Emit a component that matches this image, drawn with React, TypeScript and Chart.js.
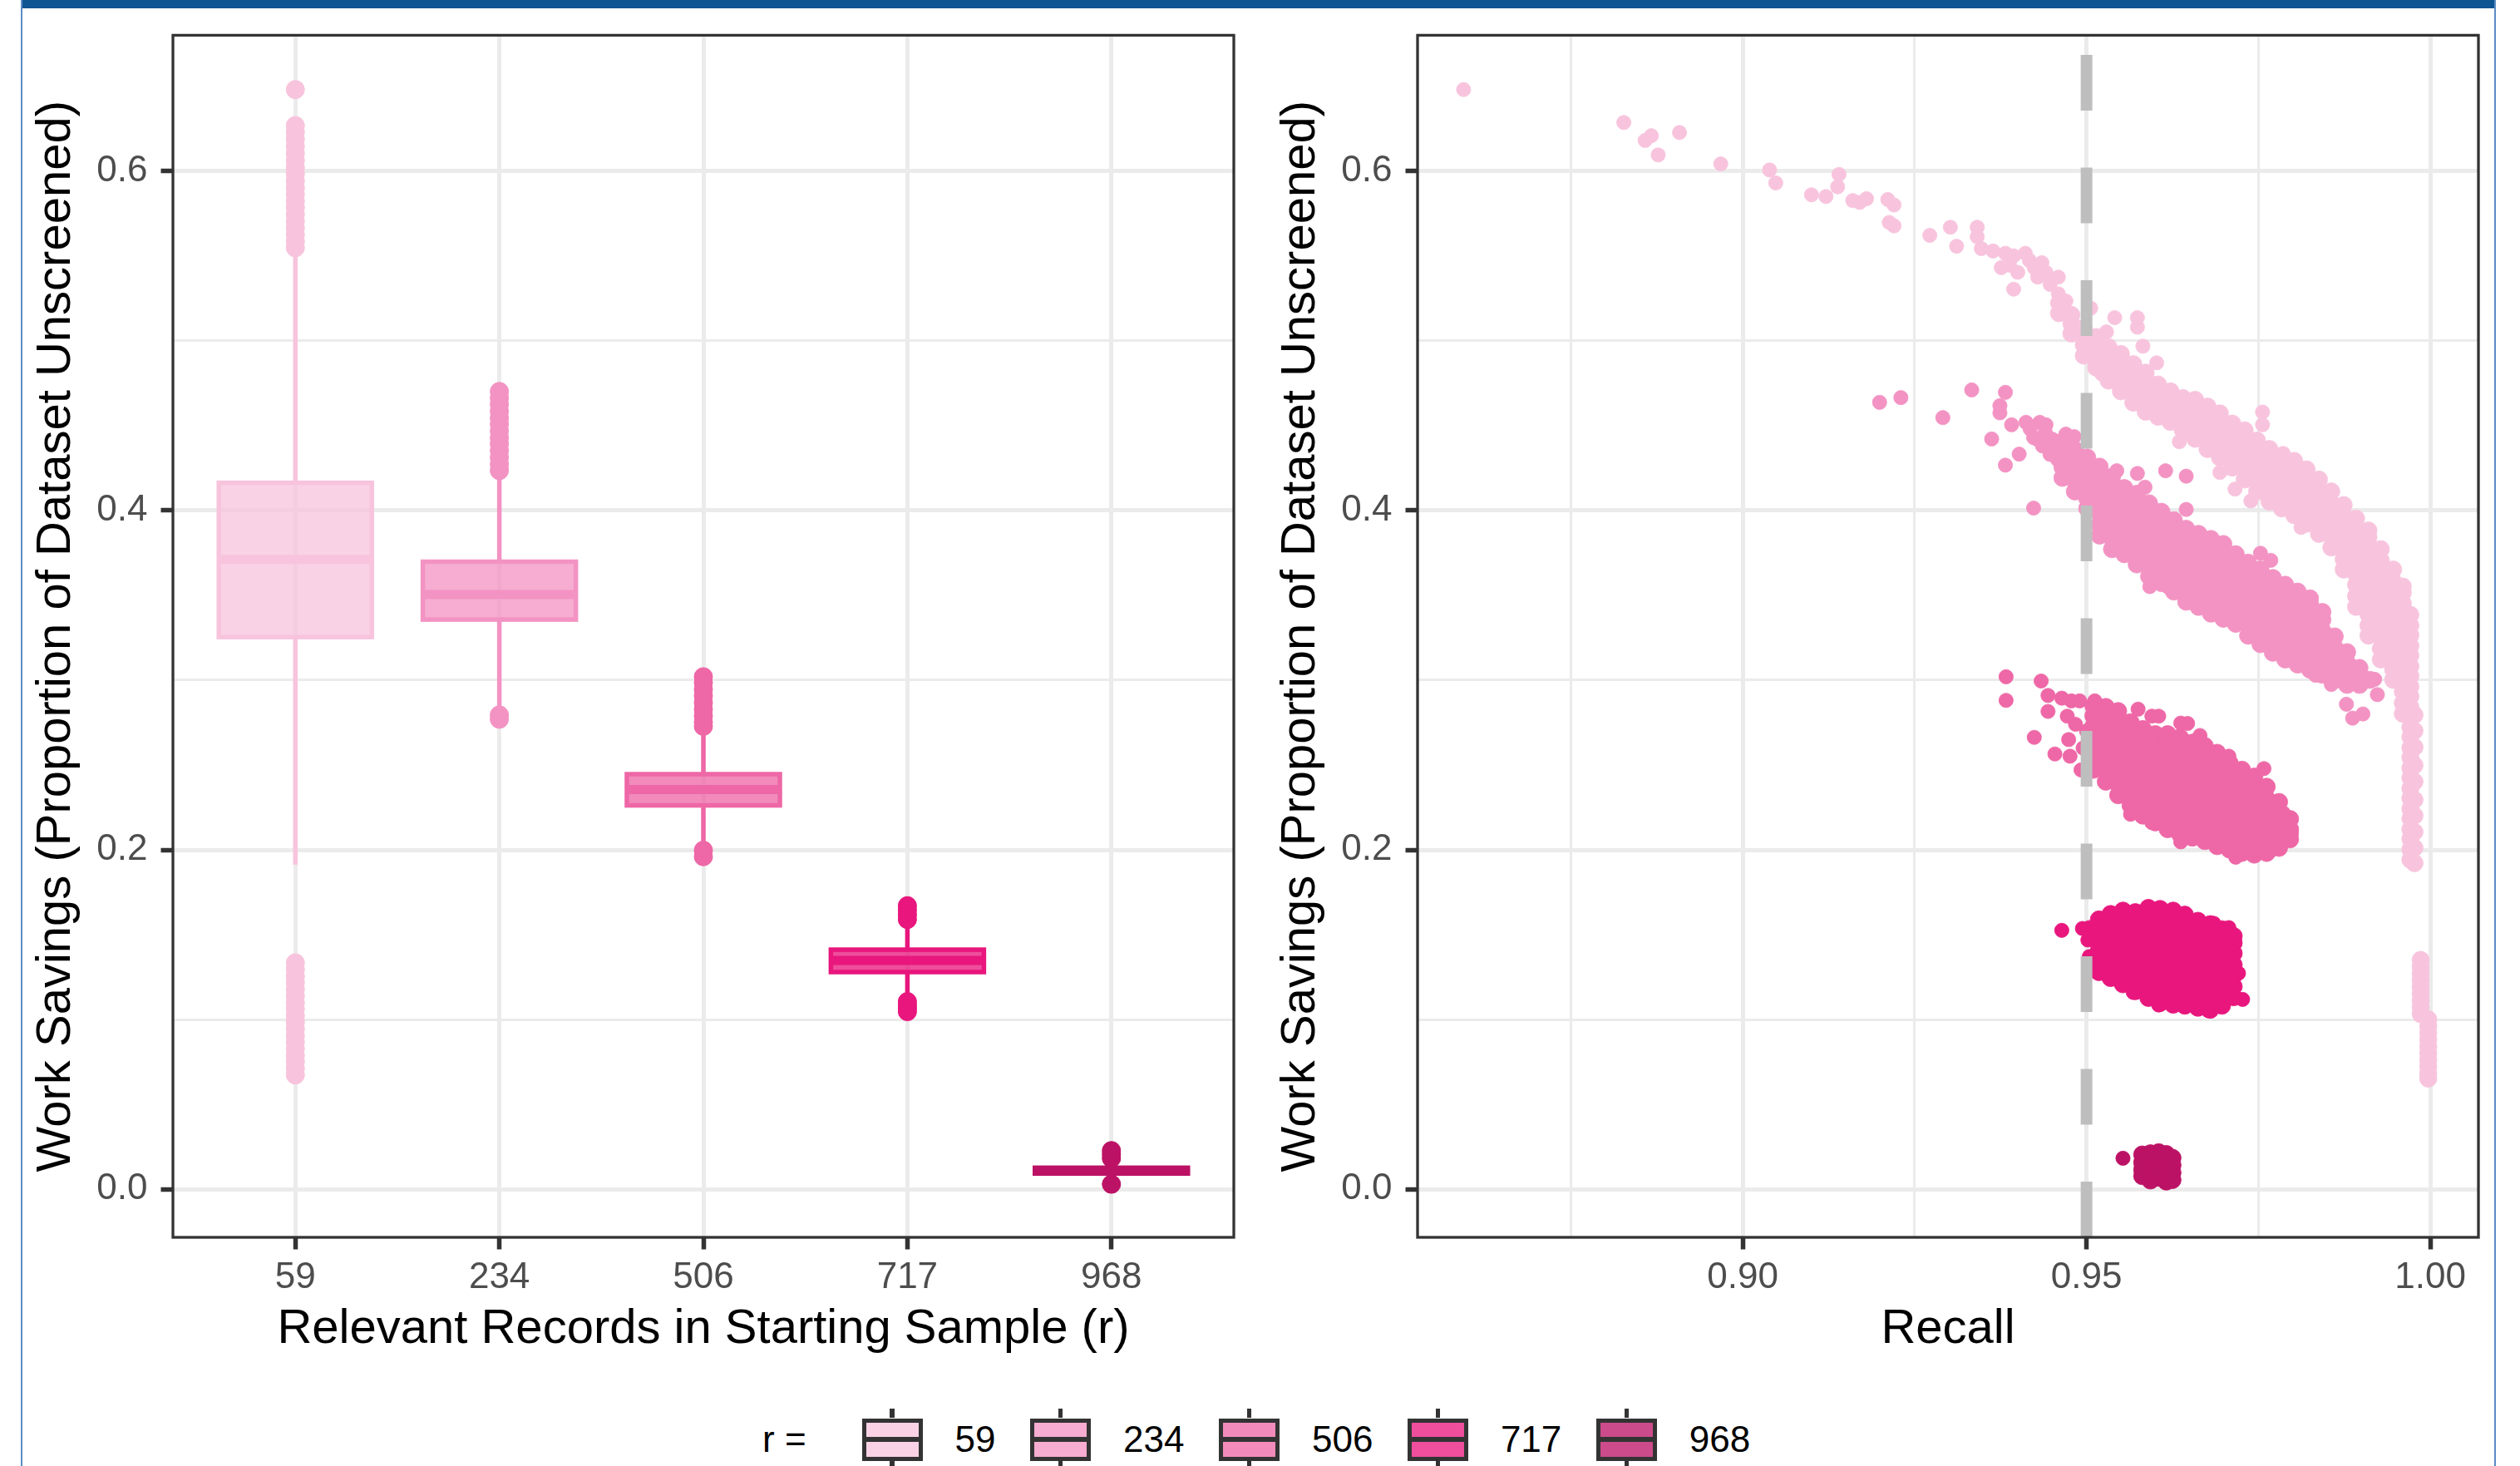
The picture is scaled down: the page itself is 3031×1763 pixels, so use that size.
import React, { useEffect, useRef } from 'react';
import { Chart, registerables } from 'chart.js';

Chart.register(...registerables);

const FONT = "'Liberation Sans', Arial, Helvetica, sans-serif";
Chart.defaults.font.family = FONT;

// ---------- shared data ----------
const categories = ['59', '234', '506', '717', '968'];
const seriesColors = ['#F8C4DD', '#F393C3', '#EE67A6', '#E8167D', '#BC1265'];

const yRange = [-0.0283, 0.68];
const yMajorTicks = [0, 0.2, 0.4, 0.6];
const yMajorLabels = ['0.0', '0.2', '0.4', '0.6'];
const yMinorTicks = [0.1, 0.3, 0.5];

const recallRange = [0.8527, 1.007];
const recallMajorTicks = [0.9, 0.95, 1.0];
const recallMajorLabels = ['0.90', '0.95', '1.00'];
const recallMinorTicks = [0.875, 0.925, 0.975];
const recallThreshold = 0.95;

const yTitle = 'Work Savings (Proportion of Dataset Unscreened)';
const leftXTitle = 'Relevant Records in Starting Sample (r)';
const rightXTitle = 'Recall';
const legendTitle = 'r =';

// ---------- box plot data (left panel) ----------
const boxQ1 = [0.3254, 0.3357, 0.2262, 0.128, 0.0093];
const boxMedian = [0.3711, 0.3505, 0.2356, 0.1349, 0.011];
const boxQ3 = [0.4163, 0.3698, 0.2446, 0.1412, 0.0127];
const whiskerLow = [0.1913, 0.281, 0.201, 0.112, 0.006];
const whiskerHigh = [0.553, 0.422, 0.272, 0.1575, 0.0165];

const outliers59 = [0.648, 0.6268, 0.6228, 0.6187, 0.6145, 0.6104, 0.6062, 0.6021, 0.5983, 0.5942, 0.5902, 0.5864, 0.5822, 0.5785, 0.5745, 0.5703, 0.5663, 0.5625, 0.5585, 0.5548,
  0.1334, 0.1295, 0.1255, 0.1218, 0.1178, 0.1138, 0.1098, 0.1062, 0.1022, 0.0985, 0.0945, 0.0905, 0.0868, 0.0828, 0.0788, 0.0752, 0.0712, 0.0674];
const outliers234 = [0.4701, 0.4662, 0.4625, 0.4585, 0.4545, 0.4508, 0.4468, 0.4428, 0.4392, 0.4352, 0.4312, 0.4272, 0.4235, 0.2795, 0.277];
const outliers506 = [0.302, 0.2985, 0.2945, 0.2908, 0.2868, 0.2828, 0.279, 0.2752, 0.2728, 0.1998, 0.196];
const outliers717 = [0.1671, 0.1645, 0.1618, 0.159, 0.1106, 0.1085, 0.1065, 0.1047];
const outliers968 = [0.0228, 0.0205, 0.0182, 0.003];
const outlierLists = [outliers59, outliers234, outliers506, outliers717, outliers968];

// ---------- scatter data (right panel): [recall, workSavings] and columns [recall, ws, ws, ...] ----------
const s59Sparse = [[0.8594, 0.648], [0.8827, 0.6286], [0.8858, 0.618], [0.8867, 0.6208], [0.8877, 0.6095], [0.8908, 0.6227], [0.8968, 0.6042], [0.9039, 0.6006], [0.9048, 0.593], [0.914, 0.598], [0.91, 0.586], [0.9121, 0.585], [0.9138, 0.5907], [0.916, 0.5826], [0.917, 0.5815], [0.918, 0.5837], [0.9211, 0.5832], [0.922, 0.58], [0.9213, 0.5697], [0.922, 0.5677], [0.9272, 0.5621], [0.9302, 0.5669], [0.9311, 0.5557], [0.9341, 0.5669], [0.9341, 0.5613], [0.9347, 0.5543], [0.9364, 0.5529], [0.9382, 0.5515], [0.9394, 0.55], [0.9411, 0.5515], [0.9417, 0.5473], [0.9388, 0.5445], [0.9376, 0.5431], [0.94, 0.5403], [0.9429, 0.5375], [0.9441, 0.5403], [0.9447, 0.5332], [0.9394, 0.5304], [0.9459, 0.5276], [0.947, 0.5234], [0.9459, 0.5375], [0.9506, 0.5192], [0.9482, 0.508], [0.9529, 0.5052], [0.9541, 0.5136], [0.9574, 0.5136], [0.9574, 0.508], [0.9582, 0.4968], [0.9602, 0.487], [0.9756, 0.458], [0.9756, 0.4505], [0.9786, 0.4336], [0.9716, 0.4126], [0.9694, 0.4224], [0.9739, 0.4056], [0.9635, 0.4405], [0.9522, 0.4805], [0.9812, 0.39], [0.9424, 0.543], [0.9435, 0.546]];
const s59Cols = [
  [0.946, 0.5162, 0.5222], [0.9478, 0.5042, 0.5102, 0.5152], [0.9496, 0.4912, 0.4975, 0.5042, 0.5072], [0.9514, 0.4842, 0.4902, 0.4962, 0.5022],
  [0.9532, 0.4765, 0.4832, 0.4895, 0.4962], [0.955, 0.4702, 0.4762, 0.4828, 0.4892, 0.4922], [0.9568, 0.4635, 0.4702, 0.4765, 0.4832, 0.4862],
  [0.9586, 0.4582, 0.4645, 0.4712, 0.4775, 0.4812], [0.9604, 0.4552, 0.4612, 0.4678, 0.4742], [0.9622, 0.4522, 0.4585, 0.4652, 0.4702],
  [0.964, 0.4472, 0.4535, 0.4602, 0.4662], [0.9658, 0.4422, 0.4482, 0.4548, 0.4612, 0.4652], [0.9676, 0.4362, 0.4425, 0.4492, 0.4555, 0.4612],
  [0.9694, 0.4312, 0.4372, 0.4438, 0.4502, 0.4572], [0.9712, 0.4252, 0.4315, 0.4382, 0.4445, 0.4512], [0.973, 0.4182, 0.4242, 0.4308, 0.4372, 0.4438, 0.4472],
  [0.9748, 0.4112, 0.4175, 0.4242, 0.4305, 0.4372, 0.4412], [0.9766, 0.4052, 0.4112, 0.4178, 0.4242, 0.4308, 0.4362], [0.9784, 0.4012, 0.4075, 0.4142, 0.4205, 0.4272, 0.4322],
  [0.9802, 0.3972, 0.4032, 0.4098, 0.4162, 0.4228, 0.4292], [0.982, 0.3922, 0.3985, 0.4052, 0.4115, 0.4182, 0.4242], [0.9838, 0.3862, 0.3922, 0.3988, 0.4052, 0.4118, 0.4182],
  [0.9856, 0.3782, 0.3845, 0.3912, 0.3975, 0.4042, 0.4112], [0.9874, 0.3652, 0.3712, 0.3778, 0.3842, 0.3908, 0.3972, 0.4032],
  [0.9892, 0.3432, 0.3495, 0.3562, 0.3625, 0.3692, 0.3755, 0.3822, 0.3885, 0.3952],
  [0.991, 0.3262, 0.3322, 0.3388, 0.3452, 0.3518, 0.3582, 0.3648, 0.3712, 0.3778, 0.3842, 0.3882],
  [0.9928, 0.3122, 0.3185, 0.3252, 0.3315, 0.3382, 0.3445, 0.3512, 0.3575, 0.3642, 0.3705, 0.3772],
  [0.9946, 0.3002, 0.3062, 0.3128, 0.3192, 0.3258, 0.3322, 0.3388, 0.3452, 0.3518, 0.3582, 0.3652],
  [0.996, 0.2802, 0.2865, 0.2932, 0.2995, 0.3062, 0.3125, 0.3192, 0.3255, 0.3322, 0.3385, 0.3452, 0.3515, 0.3552],
  [0.9971, 0.1942, 0.2002, 0.2065, 0.2122, 0.2185, 0.2242, 0.2305, 0.2362, 0.2425, 0.2482, 0.2545, 0.2602, 0.2665, 0.2722, 0.2785, 0.2842, 0.2905, 0.2962, 0.3025, 0.3082, 0.3145, 0.3202, 0.3265, 0.3322, 0.3385],
  [0.9977, 0.1922, 0.2012, 0.2105, 0.2202, 0.2295, 0.2402, 0.2498, 0.2605, 0.2702, 0.2795],
  [0.9986, 0.1352, 0.1312, 0.1272, 0.1232, 0.1192, 0.1152, 0.1112, 0.1072, 0.1032],
  [0.9997, 0.1002, 0.0962, 0.0922, 0.0882, 0.0842, 0.0802, 0.0762, 0.0722, 0.0682, 0.0652],
];

const s234Sparse = [[0.9199, 0.4637], [0.923, 0.4665], [0.9291, 0.4547], [0.9333, 0.471], [0.9382, 0.4696], [0.9374, 0.4617], [0.9374, 0.4575], [0.9362, 0.4421], [0.9391, 0.4505], [0.9412, 0.4519], [0.9441, 0.4505], [0.9423, 0.4014], [0.9382, 0.4267], [0.9432, 0.4519], [0.9402, 0.4332], [0.9423, 0.443], [0.9443, 0.4397], [0.9458, 0.43], [0.9482, 0.4435], [0.9418, 0.448], [0.9428, 0.442], [0.944, 0.446], [0.945, 0.442], [0.9455, 0.437], [0.9462, 0.441], [0.947, 0.445], [0.9447, 0.433], [0.9436, 0.438], [0.9615, 0.4234], [0.9645, 0.4202], [0.9645, 0.4006], [0.9585, 0.4137], [0.9574, 0.4218], [0.9544, 0.4234], [0.9753, 0.3748], [0.9768, 0.3706], [0.9919, 0.3005], [0.9878, 0.2858], [0.9887, 0.2776], [0.9902, 0.2801], [0.9923, 0.2915], [0.9592, 0.3551], [0.9618, 0.3551], [0.9856, 0.2975], [0.9833, 0.3029]];
const s234Cols = [
  [0.9465, 0.4192, 0.4255, 0.4322, 0.4385], [0.9483, 0.4112, 0.4175, 0.4242, 0.4305, 0.4358], [0.9501, 0.4012, 0.4072, 0.4138, 0.4202, 0.4268, 0.4312],
  [0.9519, 0.3852, 0.3915, 0.3982, 0.4045, 0.4112, 0.4175, 0.4258], [0.9537, 0.3772, 0.3835, 0.3902, 0.3965, 0.4032, 0.4095, 0.4162, 0.4198],
  [0.9555, 0.3742, 0.3808, 0.3872, 0.3938, 0.4002, 0.4068, 0.4132], [0.9573, 0.3682, 0.3748, 0.3812, 0.3878, 0.3942, 0.4008, 0.4072, 0.4098],
  [0.9591, 0.3612, 0.3675, 0.3742, 0.3805, 0.3872, 0.3935, 0.4002, 0.4042], [0.9609, 0.3572, 0.3632, 0.3698, 0.3762, 0.3828, 0.3892, 0.3958, 0.3992],
  [0.9627, 0.3522, 0.3585, 0.3652, 0.3715, 0.3782, 0.3845, 0.3912, 0.3942], [0.9645, 0.3462, 0.3522, 0.3588, 0.3652, 0.3718, 0.3782, 0.3848, 0.3892],
  [0.9663, 0.3432, 0.3495, 0.3562, 0.3625, 0.3692, 0.3755, 0.3822, 0.3862], [0.9681, 0.3392, 0.3452, 0.3518, 0.3582, 0.3648, 0.3712, 0.3778, 0.3832],
  [0.9699, 0.3362, 0.3425, 0.3492, 0.3555, 0.3622, 0.3685, 0.3752, 0.3802], [0.9717, 0.3332, 0.3392, 0.3458, 0.3522, 0.3588, 0.3652, 0.3718, 0.3742],
  [0.9735, 0.3262, 0.3325, 0.3392, 0.3455, 0.3522, 0.3585, 0.3652, 0.3692], [0.9753, 0.3212, 0.3272, 0.3338, 0.3402, 0.3468, 0.3532, 0.3598, 0.3652],
  [0.9771, 0.3162, 0.3225, 0.3292, 0.3355, 0.3422, 0.3485, 0.3552, 0.3602], [0.9789, 0.3122, 0.3182, 0.3248, 0.3312, 0.3378, 0.3442, 0.3508, 0.3562],
  [0.9807, 0.3092, 0.3155, 0.3222, 0.3285, 0.3352, 0.3415, 0.3482, 0.3522], [0.9825, 0.3062, 0.3122, 0.3188, 0.3252, 0.3318, 0.3382, 0.3448, 0.3482],
  [0.9843, 0.3032, 0.3095, 0.3162, 0.3225, 0.3292, 0.3355, 0.3402], [0.9861, 0.3002, 0.3062, 0.3128, 0.3192, 0.3258],
  [0.9879, 0.2972, 0.3035, 0.3102, 0.3165], [0.9897, 0.2972, 0.3032, 0.3072], [0.9912, 0.3002],
];

const s506Sparse = [[0.9383, 0.302], [0.9383, 0.2881], [0.9434, 0.2995], [0.9424, 0.2663], [0.9454, 0.2565], [0.9444, 0.291], [0.9444, 0.2816], [0.9464, 0.2894], [0.9478, 0.2878], [0.949, 0.2878], [0.9512, 0.2878], [0.9472, 0.2788], [0.9474, 0.265], [0.9476, 0.2552], [0.9492, 0.2471], [0.9575, 0.2829], [0.9595, 0.2788], [0.9605, 0.2788], [0.9637, 0.2747], [0.9647, 0.2745], [0.9665, 0.2674], [0.9707, 0.2552], [0.9758, 0.2479], [0.9786, 0.2218], [0.9798, 0.2096], [0.9564, 0.221], [0.9595, 0.2161], [0.9637, 0.2047], [0.9717, 0.1957], [0.9766, 0.199], [0.9495, 0.26], [0.95, 0.27], [0.9484, 0.274]];
const s506Cols = [
  [0.951, 0.2472, 0.2535, 0.26, 0.2662, 0.2728, 0.279, 0.2848], [0.9528, 0.2402, 0.2465, 0.2532, 0.2595, 0.2662, 0.2725, 0.279, 0.2842],
  [0.9546, 0.2322, 0.2385, 0.2452, 0.2515, 0.2582, 0.2645, 0.2712, 0.2772, 0.2818], [0.9564, 0.2262, 0.2325, 0.2392, 0.2455, 0.2522, 0.2585, 0.2652, 0.2712, 0.2752],
  [0.9582, 0.2202, 0.2262, 0.2328, 0.2392, 0.2458, 0.2522, 0.2588, 0.2652, 0.2712], [0.96, 0.2162, 0.2225, 0.2292, 0.2355, 0.2422, 0.2485, 0.2552, 0.2615, 0.2682],
  [0.9618, 0.2122, 0.2182, 0.2248, 0.2312, 0.2378, 0.2442, 0.2508, 0.2572, 0.2638, 0.2682], [0.9636, 0.2092, 0.2155, 0.2222, 0.2285, 0.2352, 0.2415, 0.2482, 0.2545, 0.2612, 0.2662],
  [0.9654, 0.2072, 0.2132, 0.2192, 0.2258, 0.2322, 0.2388, 0.2452, 0.2518, 0.2582, 0.2632], [0.9672, 0.2052, 0.2105, 0.2172, 0.2235, 0.2302, 0.2365, 0.2432, 0.2495, 0.2562, 0.2612],
  [0.969, 0.2022, 0.2082, 0.2142, 0.2208, 0.2272, 0.2338, 0.2402, 0.2468, 0.2532, 0.2572], [0.9708, 0.2002, 0.2055, 0.2122, 0.2185, 0.2252, 0.2315, 0.2382, 0.2445, 0.2512],
  [0.9726, 0.1982, 0.2032, 0.2092, 0.2158, 0.2222, 0.2288, 0.2352, 0.2418, 0.2472], [0.9744, 0.1972, 0.2005, 0.2072, 0.2135, 0.2202, 0.2265, 0.2332, 0.2395, 0.2432],
  [0.9762, 0.1982, 0.2042, 0.2108, 0.2172, 0.2238, 0.2302, 0.2372], [0.978, 0.2012, 0.2085, 0.2152, 0.2215, 0.2282], [0.9796, 0.2062, 0.2122, 0.2182],
];

const s717Sparse = [[0.9464, 0.1526], [0.9494, 0.1537], [0.9504, 0.1542], [0.9502, 0.1469], [0.9504, 0.1371], [0.951, 0.1512], [0.9727, 0.1119], [0.9677, 0.1053], [0.9605, 0.1086], [0.9525, 0.1281], [0.9707, 0.1542], [0.9685, 0.1567], [0.9721, 0.1273], [0.9568, 0.116], [0.9548, 0.1225]];
const s717Cols = [
  [0.9518, 0.128, 0.1345, 0.141, 0.1478, 0.154, 0.159], [0.9535, 0.1245, 0.131, 0.1378, 0.144, 0.1507, 0.157, 0.1622],
  [0.9553, 0.1208, 0.1275, 0.134, 0.1405, 0.147, 0.1538, 0.16, 0.1642], [0.9571, 0.1168, 0.1238, 0.1305, 0.137, 0.1436, 0.1502, 0.1568, 0.1633],
  [0.959, 0.1128, 0.1198, 0.1265, 0.133, 0.1398, 0.1462, 0.153, 0.1594, 0.1658], [0.9607, 0.1098, 0.1165, 0.123, 0.1298, 0.1362, 0.143, 0.1495, 0.156, 0.1622, 0.1652],
  [0.9626, 0.1088, 0.114, 0.1208, 0.1272, 0.134, 0.1404, 0.147, 0.1535, 0.16, 0.1642], [0.9643, 0.1082, 0.1112, 0.118, 0.1244, 0.131, 0.1375, 0.144, 0.1505, 0.157, 0.1618],
  [0.9662, 0.107, 0.1132, 0.12, 0.1262, 0.133, 0.1392, 0.146, 0.1522, 0.1582], [0.968, 0.1058, 0.1102, 0.117, 0.1232, 0.13, 0.1362, 0.143, 0.1492, 0.1562],
  [0.9697, 0.1082, 0.114, 0.1208, 0.1272, 0.134, 0.1402, 0.147, 0.1532], [0.9714, 0.1132, 0.1195, 0.126, 0.1322, 0.139, 0.1452, 0.1492],
];

const s968Sparse = [[0.9553, 0.0183]];
const s968Cols = [
  [0.9581, 0.0078, 0.0115, 0.0158, 0.0205], [0.9593, 0.0052, 0.0095, 0.0128, 0.0172, 0.0212], [0.9605, 0.0068, 0.011, 0.0148, 0.0195, 0.0218],
  [0.9616, 0.0046, 0.0085, 0.0125, 0.0168, 0.0208], [0.9625, 0.0055, 0.0098, 0.0142, 0.0185],
];

const scatterSparse = [s59Sparse, s234Sparse, s506Sparse, s717Sparse, s968Sparse];
const scatterCols = [s59Cols, s234Cols, s506Cols, s717Cols, s968Cols];

// ---------- helpers ----------
const rgba = (hex: string, a: number) => {
  const n = parseInt(hex.slice(1), 16);
  return `rgba(${(n >> 16) & 255},${(n >> 8) & 255},${n & 255},${a})`;
};
const near = (v: number, list: number[]) => list.some((t) => Math.abs(t - v) < 1e-9);
const sparsePoints = (sparse: number[][]) => sparse.map(([x, y]) => ({ x, y }));
const columnPoints = (cols: number[][]) => cols.flatMap(([x, ...ys]) => ys.map((y) => ({ x, y })));

const BOX_WIDTH = 0.75;
const BOX_ALPHA = 0.76;
const GRID_COLOR = '#EBEBEB';
const TICK_COLOR = '#4D4D4D';
const AXIS_COLOR = '#333333';

const tickFont = { size: 44, family: FONT };
const titleFont = { size: 58, family: FONT };

const panelBorder = {
  id: 'panelBorder',
  afterDatasetsDraw(chart: any) {
    const { ctx, chartArea } = chart;
    ctx.save();
    ctx.strokeStyle = AXIS_COLOR;
    ctx.lineWidth = 3.3;
    ctx.strokeRect(chartArea.left, chartArea.top, chartArea.right - chartArea.left, chartArea.bottom - chartArea.top);
    ctx.restore();
  },
};

const boxplotPlugin = {
  id: 'boxplotPlugin',
  afterDatasetsDraw(chart: any) {
    const { ctx, chartArea, scales } = chart;
    const x = scales.x;
    const y = scales.y;
    ctx.save();
    ctx.beginPath();
    ctx.rect(chartArea.left, chartArea.top, chartArea.right - chartArea.left, chartArea.bottom - chartArea.top);
    ctx.clip();
    categories.forEach((_, i) => {
      const col = seriesColors[i];
      const cx = x.getPixelForValue(i);
      const x0 = x.getPixelForValue(i - BOX_WIDTH / 2);
      const x1 = x.getPixelForValue(i + BOX_WIDTH / 2);
      const yq1 = y.getPixelForValue(boxQ1[i]);
      const yq3 = y.getPixelForValue(boxQ3[i]);
      const ym = y.getPixelForValue(boxMedian[i]);
      ctx.strokeStyle = col;
      ctx.lineWidth = 5.5;
      ctx.lineCap = 'butt';
      ctx.beginPath();
      ctx.moveTo(cx, y.getPixelForValue(whiskerHigh[i]));
      ctx.lineTo(cx, yq3);
      ctx.moveTo(cx, yq1);
      ctx.lineTo(cx, y.getPixelForValue(whiskerLow[i]));
      ctx.stroke();
      ctx.fillStyle = rgba(col, BOX_ALPHA);
      ctx.fillRect(x0, yq3, x1 - x0, yq1 - yq3);
      ctx.strokeRect(x0, yq3, x1 - x0, yq1 - yq3);
      ctx.lineWidth = 11;
      ctx.beginPath();
      ctx.moveTo(x0, ym);
      ctx.lineTo(x1, ym);
      ctx.stroke();
    });
    ctx.restore();
  },
};

const yAxisOptions = () => ({
  type: 'linear',
  min: yRange[0],
  max: yRange[1],
  bounds: 'data',
  afterBuildTicks: (scale: any) => {
    scale.ticks = [...yMajorTicks, ...yMinorTicks].sort((a, b) => a - b).map((value) => ({ value }));
  },
  afterFit: (scale: any) => {
    scale.width = 182;
  },
  ticks: {
    autoSkip: false,
    padding: 16,
    color: TICK_COLOR,
    font: tickFont,
    callback: (v: number) => {
      const idx = yMajorTicks.findIndex((t) => Math.abs(t - v) < 1e-9);
      return idx >= 0 ? yMajorLabels[idx] : '';
    },
  },
  grid: {
    color: GRID_COLOR,
    lineWidth: (ctx: any) => (ctx.tick && near(ctx.tick.value, yMajorTicks) ? 5 : 3),
    tickLength: 14.5,
    tickWidth: 5.5,
    tickColor: (ctx: any) => (ctx.tick && near(ctx.tick.value, yMajorTicks) ? AXIS_COLOR : 'rgba(0,0,0,0)'),
  },
  border: { display: false },
  title: { display: true, text: yTitle, color: '#000000', font: titleFont, padding: { top: 7, bottom: 0 } },
});

const X_AXIS_HEIGHT = 146;
const CANVAS_HEIGHT = 1488 + X_AXIS_HEIGHT;

function leftConfig(): any {
  return {
    type: 'scatter',
    data: {
      datasets: categories.map((c, i) => ({
        label: c,
        data: outlierLists[i].map((v) => ({ x: i, y: v })),
        pointRadius: 11,
        pointBorderWidth: 1,
        pointBackgroundColor: seriesColors[i],
        pointBorderColor: seriesColors[i],
      })),
    },
    options: {
      animation: false,
      responsive: false,
      events: [],
      layout: { padding: { left: 26, top: 39, right: 16, bottom: 0 } },
      plugins: { legend: { display: false }, tooltip: { enabled: false } },
      scales: {
        x: {
          type: 'linear',
          min: -0.6,
          max: categories.length - 0.4,
          bounds: 'data',
          afterBuildTicks: (scale: any) => {
            scale.ticks = categories.map((_, i) => ({ value: i }));
          },
          afterFit: (scale: any) => {
            scale.height = X_AXIS_HEIGHT;
          },
          ticks: {
            autoSkip: false,
            maxRotation: 0,
            padding: 8,
            color: TICK_COLOR,
            font: tickFont,
            callback: (v: number) => categories[Math.round(v)] ?? '',
          },
          grid: { color: GRID_COLOR, lineWidth: 5, tickLength: 14.5, tickWidth: 5.5, tickColor: AXIS_COLOR },
          border: { display: false },
          title: { display: true, text: leftXTitle, color: '#000000', font: titleFont, padding: { top: 0, bottom: 0 } },
        },
        y: yAxisOptions(),
      },
    },
    plugins: [boxplotPlugin, panelBorder],
  };
}

function rightConfig(): any {
  const allRecallTicks = [...recallMajorTicks, ...recallMinorTicks].sort((a, b) => a - b);
  const pointSets: any[] = [];
  categories.forEach((c, i) => {
    pointSets.push({
      label: c + ' dense',
      data: columnPoints(scatterCols[i]),
      pointRadius: 10.4,
      pointBorderWidth: 0.8,
      pointBackgroundColor: seriesColors[i],
      pointBorderColor: seriesColors[i],
      order: 20 - 2 * i,
    });
    pointSets.push({
      label: c,
      data: sparsePoints(scatterSparse[i]),
      pointRadius: 8.6,
      pointBorderWidth: 0.8,
      pointBackgroundColor: seriesColors[i],
      pointBorderColor: seriesColors[i],
      order: 19 - 2 * i,
    });
  });
  return {
    type: 'scatter',
    data: {
      datasets: [
        {
          type: 'line',
          label: 'threshold',
          data: [
            { x: recallThreshold, y: yRange[0] },
            { x: recallThreshold, y: yRange[1] },
          ],
          borderColor: '#BEBEBE',
          borderWidth: 14,
          borderDash: [67, 68.5],
          borderCapStyle: 'butt',
          pointRadius: 0,
          fill: false,
          order: 0,
        },
        ...pointSets,
      ],
    },
    options: {
      animation: false,
      responsive: false,
      events: [],
      layout: { padding: { left: 26, top: 39, right: 50, bottom: 0 } },
      plugins: { legend: { display: false }, tooltip: { enabled: false } },
      scales: {
        x: {
          type: 'linear',
          min: recallRange[0],
          max: recallRange[1],
          bounds: 'data',
          afterBuildTicks: (scale: any) => {
            scale.ticks = allRecallTicks.map((value) => ({ value }));
          },
          afterFit: (scale: any) => {
            scale.height = X_AXIS_HEIGHT;
          },
          ticks: {
            autoSkip: false,
            maxRotation: 0,
            padding: 8,
            color: TICK_COLOR,
            font: tickFont,
            callback: (v: number) => {
              const idx = recallMajorTicks.findIndex((t) => Math.abs(t - v) < 1e-9);
              return idx >= 0 ? recallMajorLabels[idx] : '';
            },
          },
          grid: {
            color: GRID_COLOR,
            lineWidth: (ctx: any) => (ctx.tick && near(ctx.tick.value, recallMajorTicks) ? 5 : 3),
            tickLength: 14.5,
            tickWidth: 5.5,
            tickColor: (ctx: any) => (ctx.tick && near(ctx.tick.value, recallMajorTicks) ? AXIS_COLOR : 'rgba(0,0,0,0)'),
          },
          border: { display: false },
          title: { display: true, text: rightXTitle, color: '#000000', font: titleFont, padding: { top: 0, bottom: 0 } },
        },
        y: yAxisOptions(),
      },
    },
    plugins: [panelBorder],
  };
}

function LegendKey({ color }: { color: string }) {
  return (
    <div style={{ position: 'relative', width: 73, height: 51, boxSizing: 'border-box', border: `5.5px solid ${AXIS_COLOR}`, background: rgba(color, BOX_ALPHA), marginRight: 39, flex: '0 0 auto' }}>
      <div style={{ position: 'absolute', left: '50%', marginLeft: -2.75, top: -17, width: 5.5, height: 11.5, background: AXIS_COLOR }} />
      <div style={{ position: 'absolute', left: '50%', marginLeft: -2.75, bottom: -26, width: 5.5, height: 20.5, background: AXIS_COLOR }} />
      <div style={{ position: 'absolute', left: 0, right: 0, top: '50%', marginTop: -2.75, height: 5.5, background: AXIS_COLOR }} />
    </div>
  );
}

export default function App() {
  const leftRef = useRef<HTMLCanvasElement>(null);
  const rightRef = useRef<HTMLCanvasElement>(null);

  useEffect(() => {
    const left = new Chart(leftRef.current as HTMLCanvasElement, leftConfig());
    const right = new Chart(rightRef.current as HTMLCanvasElement, rightConfig());
    return () => {
      left.destroy();
      right.destroy();
    };
  }, []);

  return (
    <div style={{ position: 'fixed', left: 0, top: 0, width: 3031, height: 1763, background: '#FFFFFF', overflow: 'hidden', fontFamily: FONT }}>
      <div style={{ position: 'absolute', left: 25, top: 0, width: 2977, height: 10, background: '#0F5592' }} />
      <div style={{ position: 'absolute', left: 25, top: 0, width: 2, height: 1763, background: '#5B8CC4' }} />
      <div style={{ position: 'absolute', left: 3000, top: 0, width: 2, height: 1763, background: '#5B8CC4' }} />
      <canvas ref={leftRef} width={1500} height={CANVAS_HEIGHT} style={{ position: 'absolute', left: 0, top: 0 }} />
      <canvas ref={rightRef} width={1534} height={CANVAS_HEIGHT} style={{ position: 'absolute', left: 1497, top: 0 }} />
      <div style={{ position: 'absolute', left: 917, top: 1705.5, height: 51, display: 'flex', alignItems: 'center', fontSize: 44, color: '#000000', whiteSpace: 'nowrap' }}>
        <span style={{ marginRight: 67 }}>{legendTitle}</span>
        {categories.map((c, i) => (
          <React.Fragment key={c}>
            <LegendKey color={seriesColors[i]} />
            <span style={{ marginRight: 41.5 }}>{c}</span>
          </React.Fragment>
        ))}
      </div>
    </div>
  );
}
